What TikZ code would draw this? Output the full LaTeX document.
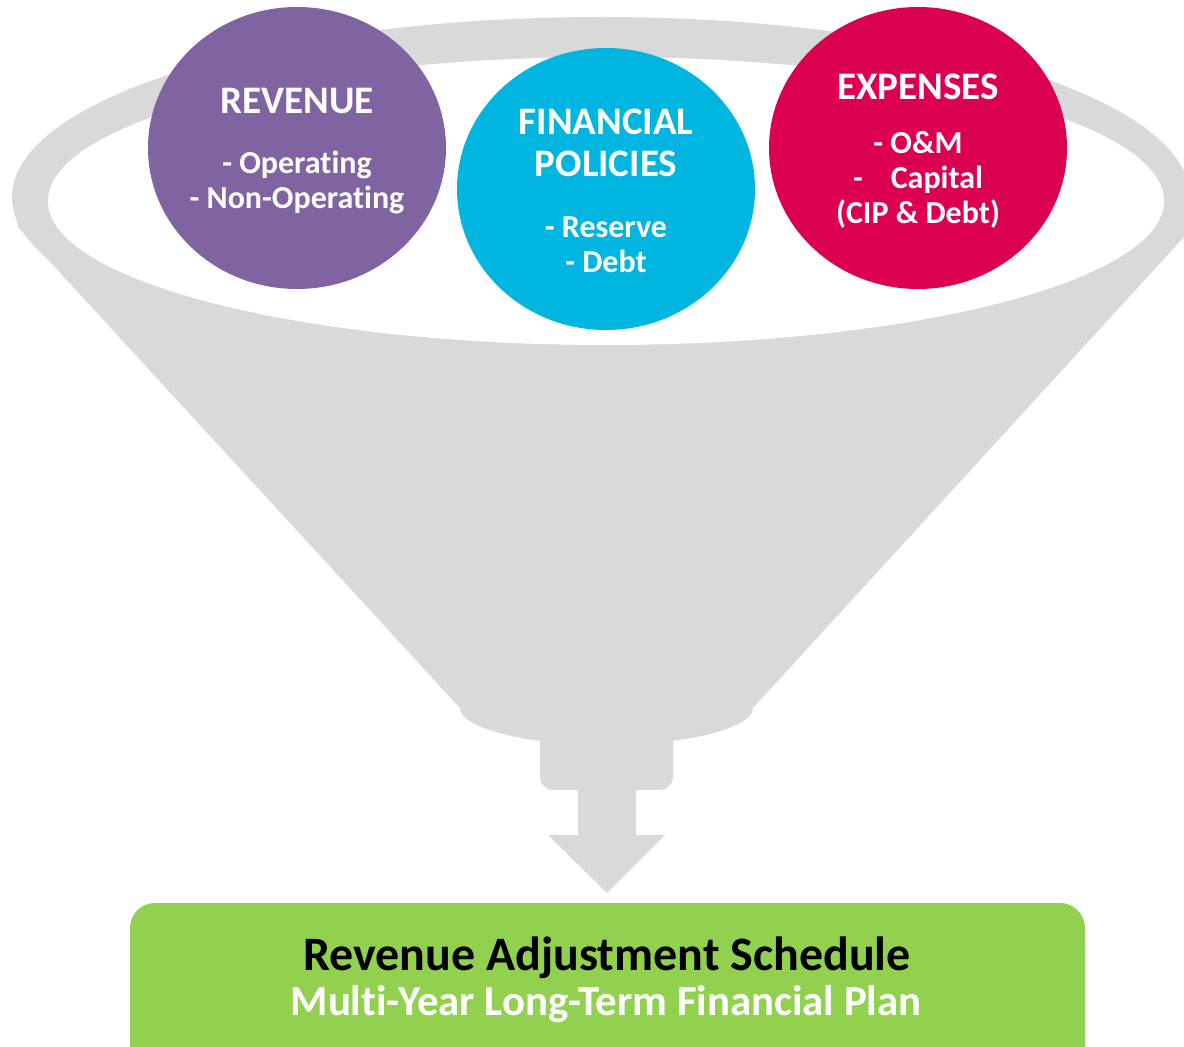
\documentclass[tikz,border=0pt]{standalone}
\usepackage{fontspec}
\setmainfont{Carlito}[Ligatures=NoCommon]
\usetikzlibrary{shapes.geometric}
\definecolor{funnelgray}{HTML}{D9D9D9}
\definecolor{revpurple}{HTML}{8064A2}
\definecolor{polcyan}{HTML}{00B5DF}
\definecolor{expred}{HTML}{DB0150}
\definecolor{plangreen}{HTML}{92D050}
\newcommand{\bubbletitle}{\fontsize{19.5pt}{21pt}\selectfont}
\newcommand{\bubbleitem}{\fontsize{16pt}{17.5pt}\selectfont}
\tikzset{
  bubble/.style = {
    ellipse, minimum width=149pt, minimum height=141pt, inner sep=0pt
  },
  bubbletext/.style = {
    inner sep=0pt, text=white, align=center, font=\bfseries\bubbleitem
  },
  planbox/.style = {
    rectangle, rounded corners=12.5pt, fill=plangreen,
    minimum width=477.5pt, minimum height=87pt
  },
  plantext/.style = {anchor=base, inner sep=0pt, font=\bfseries}
}

\begin{document}
\begin{tikzpicture}[x=0.5pt,y=-0.5pt]
  \useasboundingbox (0,0) rectangle (1184,1047);
  % funnel
  \fill[funnelgray] (601,197) ellipse [x radius=589, y radius=180];
  \fill[funnelgray] (13,197) -- (18,227) -- (460,708)
    .. controls (460,728) and (526,745) .. (606.5,745)
    .. controls (687,745) and (753,728) .. (753,708)
    -- (1184,237) -- (1190,197) -- cycle;
  \fill[funnelgray,rounded corners=6.5pt] (540,700) -- (540,790) -- (673,790) -- (673,700);
  \fill[white] (606,201) ellipse [x radius=558, y radius=144];
  % arrow
  \fill[funnelgray] (578,785) -- (578,835) -- (548,835) -- (607,893)
    -- (665,835) -- (636,835) -- (636,785) -- cycle;
  % inputs
  \node[bubble,fill=revpurple] (revenue) at (297,148) {};
  \node[bubble,fill=polcyan] (policies) at (606,189) {};
  \node[bubble,fill=expred] (expenses) at (918,148) {};
  \node[bubbletext] (revenuetext) at ([yshift=-1.5pt]revenue.center)
    {\bubbletitle REVENUE\\[12.5pt]- Operating\\- Non-Operating};
  \node[bubbletext] (policiestext) at ([yshift=-0.8pt]policies.center)
    {\bubbletitle FINANCIAL\\[3.5pt]\bubbletitle POLICIES\\[13pt]- Reserve\\- Debt};
  \node[bubbletext] (expensestext) at ([yshift=-1.5pt]expenses.center)
    {\bubbletitle EXPENSES\\[9.5pt]- O\&M\\-\hspace{14pt}Capital\\(CIP \& Debt)};
  % output
  \node[planbox] (plan) at (607.5,990) {};
  \node[plantext,text=black,font=\bfseries\fontsize{24pt}{26pt}\selectfont] (schedule) at (607,970)
    {Revenue Adjustment Schedule};
  \node[plantext,text=white,font=\bfseries\fontsize{21.4pt}{23pt}\selectfont] (longterm) at (606,1015)
    {Multi-Year Long-Term Financial Plan};
\end{tikzpicture}
\end{document}
